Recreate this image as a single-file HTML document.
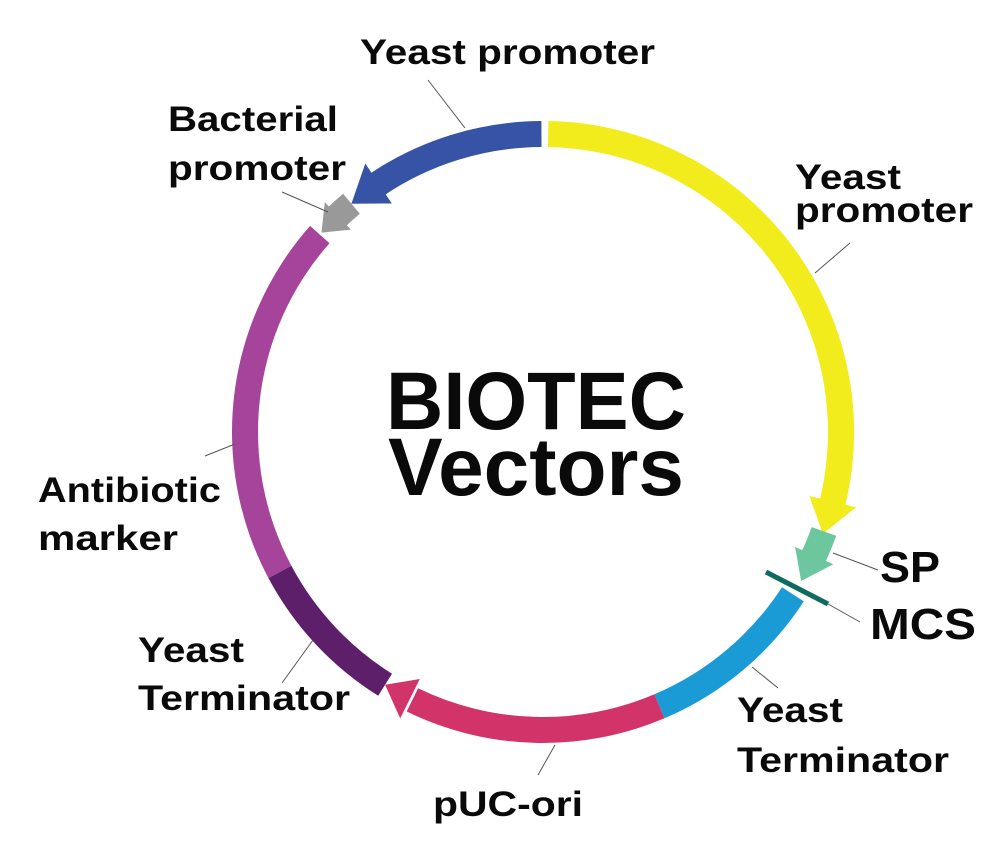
<!DOCTYPE html>
<html><head><meta charset="utf-8"><style>
html,body{margin:0;padding:0;background:#fff;}
svg{display:block;}
text{font-family:"Liberation Sans",sans-serif;font-weight:bold;fill:#0a0a0a;}
</style></head><body>
<svg id="s" width="1000" height="868" viewBox="0 0 1000 868" xmlns="http://www.w3.org/2000/svg">
<g id="arcs"></g>
<g stroke="#555" stroke-width="1" fill="none">
<line x1="465" y1="128" x2="428" y2="80"/>
<line x1="328" y1="212" x2="282" y2="192"/>
<line x1="815" y1="273" x2="850" y2="243"/>
<line x1="833" y1="553" x2="878" y2="570"/>
<line x1="828" y1="604" x2="860" y2="622"/>
<line x1="752" y1="667" x2="778" y2="688"/>
<line x1="555" y1="745" x2="538" y2="775"/>
<line x1="313" y1="640" x2="282" y2="683"/>
<line x1="235" y1="444" x2="205" y2="456"/>
</g>
<line x1="766" y1="572" x2="828" y2="604" stroke="#0e6b5f" stroke-width="5"/>
<text x="360" y="64" font-size="35" textLength="295" lengthAdjust="spacingAndGlyphs">Yeast promoter</text>
<text x="168" y="131" font-size="35" textLength="170" lengthAdjust="spacingAndGlyphs">Bacterial</text>
<text x="168" y="180" font-size="35" textLength="178" lengthAdjust="spacingAndGlyphs">promoter</text>
<text x="795" y="189" font-size="35" textLength="106" lengthAdjust="spacingAndGlyphs">Yeast</text>
<text x="795" y="222" font-size="35" textLength="178" lengthAdjust="spacingAndGlyphs">promoter</text>
<text x="880" y="582" font-size="44" textLength="60" lengthAdjust="spacingAndGlyphs">SP</text>
<text x="870" y="639" font-size="44" textLength="106" lengthAdjust="spacingAndGlyphs">MCS</text>
<text x="737" y="722" font-size="35" textLength="106" lengthAdjust="spacingAndGlyphs">Yeast</text>
<text x="737" y="772" font-size="35" textLength="212" lengthAdjust="spacingAndGlyphs">Terminator</text>
<text x="433" y="816" font-size="35" textLength="150" lengthAdjust="spacingAndGlyphs">pUC-ori</text>
<text x="138" y="662" font-size="35" textLength="106" lengthAdjust="spacingAndGlyphs">Yeast</text>
<text x="138" y="710" font-size="35" textLength="212" lengthAdjust="spacingAndGlyphs">Terminator</text>
<text x="38" y="502" font-size="35" textLength="183" lengthAdjust="spacingAndGlyphs">Antibiotic</text>
<text x="38" y="550" font-size="35" textLength="140" lengthAdjust="spacingAndGlyphs">marker</text>
<text x="386" y="429" font-size="82" textLength="300" lengthAdjust="spacingAndGlyphs">BIOTEC</text>
<text x="388" y="495" font-size="82" textLength="296" lengthAdjust="spacingAndGlyphs">Vectors</text>
</svg>
<script>
var cx=543,cy=432,R=298,W=26;
function P(t,r){var a=t*Math.PI/180;return [(cx+r*Math.sin(a)).toFixed(1),(cy-r*Math.cos(a)).toFixed(1)];}
function band(t1,t2,col){
 var o1=P(t1,R+W/2),o2=P(t2,R+W/2),i2=P(t2,R-W/2),i1=P(t1,R-W/2);
 var lg=(t2-t1)>180?1:0;
 return '<path fill="'+col+'" d="M'+o1+' A'+(R+W/2)+' '+(R+W/2)+' 0 '+lg+' 1 '+o2+' L'+i2+' A'+(R-W/2)+' '+(R-W/2)+' 0 '+lg+' 0 '+i1+'Z"/>';
}
function head(tb,tt,col,hw){
 var a=P(tb,R+hw),b=P(tb,R-hw),c=P(tt,R);
 return '<polygon fill="'+col+'" points="'+a+' '+c+' '+b+'"/>';
}
var h='';
h+=band(1,104,'#f2ec1c')+head(103.5,110,'#f2ec1c',24);
h+=band(109.5,115,'#6cc79e')+head(114.5,120,'#6cc79e',21);
h+=band(123,157,'#1a9bd5');
h+=band(157,206,'#d23469')+head(206.5,212,'#d23469',22);
h+=band(212,242,'#5e1f6a');
h+=band(242,311.5,'#a6449b');
h+=band(316,320,'#999')+head(316.5,312,'#999',19);
h+=band(326,359.7,'#3653a6')+head(326.5,320,'#3653a6',24);
document.getElementById('arcs').innerHTML=h;
</script>
</body></html>
